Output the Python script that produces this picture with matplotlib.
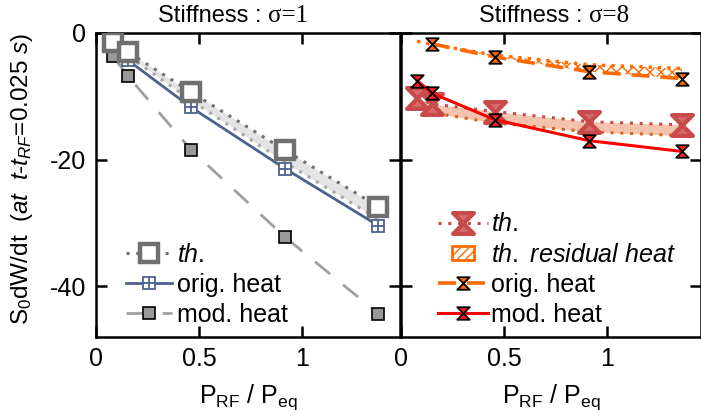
import matplotlib
matplotlib.use("Agg")
import matplotlib.pyplot as plt
from matplotlib.path import Path
from matplotlib.patches import Patch, Rectangle
from matplotlib.legend_handler import HandlerPatch
from matplotlib.offsetbox import TextArea, HPacker, AnchoredOffsetbox

plt.rcParams['font.family'] = ['Liberation Sans', 'DejaVu Sans']
plt.rcParams['mathtext.fontset'] = 'custom'
plt.rcParams['mathtext.rm'] = 'Liberation Sans'
plt.rcParams['mathtext.it'] = 'Liberation Sans:italic'
plt.rcParams['hatch.linewidth'] = 1.0
plt.rcParams['axes.unicode_minus'] = False

# ---------------- data: left panel (sigma = 1) ----------------
x_left = [0.083, 0.155, 0.46, 0.917, 1.37]
th_left = [-1.4, -3.0, -9.3, -18.5, -27.4]
th_low_left = [-1.9, -3.6, -10.6, -20.4, -29.4]
orig_left = [-2.0, -4.3, -11.7, -21.4, -30.4]
mod_left = [-3.7, -6.8, -18.4, -32.2, -44.3]

# ---------------- data: right panel (sigma = 8) ----------------
x_right = [0.078, 0.150, 0.456, 0.913, 1.364]
th_orig_right = [-1.3, -1.8, -3.5, -5.0, -5.6]
x_orig_right = [0.150, 0.456, 0.913, 1.364]
orig_right = [-1.7, -3.8, -6.1, -7.2]
th_right = [-10.2, -11.2, -12.4, -14.0, -14.5]
th_low_right = [-11.8, -12.6, -14.2, -15.6, -16.2]
mod_right = [-7.5, -9.5, -13.7, -17.0, -18.7]

yticks = [0, -20, -40]
xticks = [0, 0.5, 1]
xtick_labels = ['0', '0.5', '1']

FS = 18
FT = 17

hourglass = Path([(-1, 1), (1, 1), (-1, -1), (1, -1), (-1, 1)],
                 [Path.MOVETO, Path.LINETO, Path.LINETO, Path.LINETO, Path.CLOSEPOLY])

fig = plt.figure(figsize=(7.01, 4.20), dpi=100)
axL = fig.add_axes([96/701, 1-337/420, 304/701, 304/420])
axR = fig.add_axes([401/701, 1-337/420, 300/701, 304/420])

for ax in (axL, axR):
    ax.set_ylim(-48, 0)
    ax.set_yticks(yticks)
    ax.set_xticks(xticks)
    ax.set_xticklabels(xtick_labels)
    ax.tick_params(direction='in', length=8, width=1.8, top=True, right=True,
                   labelsize=FS, pad=7)
    for s in ax.spines.values():
        s.set_linewidth(1.8)
    ax.set_xlabel(r'P$_{\mathrm{RF}}$ / P$_{\mathrm{eq}}$', fontsize=FS, labelpad=8)

axL.set_xlim(0, 1.476)
axR.set_xlim(0, 1.456)
axR.set_yticklabels([])

# ---------------- left panel ----------------
grey_dark = '#707070'
axL.fill_between(x_left, th_left, th_low_left, color='#e4e4e4', lw=0, zorder=1)
axL.plot(x_left, th_low_left, ls=(0, (1, 2.2)), color='#a8a8a8', lw=2.2, zorder=2)
mod_l, = axL.plot(x_left, mod_left, ls=(0, (7, 6)), color='#a0a0a0', lw=2,
                  marker='s', ms=8, mfc='#999999', mec='black', mew=1.2, zorder=3)
orig_l, = axL.plot(x_left, orig_left, '-', color='#4d6191', lw=2,
                   marker='s', ms=8.5, mfc='white', mec='#4d6191', mew=1.3, zorder=4)
orig_lp, = axL.plot(x_left, orig_left, ls='none', marker='+', ms=8.5,
                    mec='#4d6191', mew=1.3, zorder=5)
th_l, = axL.plot(x_left, th_left, ls=(0, (1, 2.2)), color=grey_dark, lw=2.2,
                 marker='s', ms=13, mfc='white', mec='#707070', mew=3.2, zorder=6)

legL = axL.legend([th_l, (orig_l, orig_lp), mod_l],
                  ['$th.$', 'orig. heat', 'mod. heat'],
                  loc='lower left', bbox_to_anchor=(0.065, 0.0), frameon=False,
                  fontsize=FS, handlelength=1.85, handletextpad=0.2,
                  labelspacing=0.25, numpoints=1, borderaxespad=0)

# ---------------- right panel ----------------
orange = '#ff6a00'
axR.fill_between(x_orig_right, th_orig_right[1:], orig_right, facecolor='none',
                 edgecolor=orange, hatch='xxx', lw=0, zorder=1)
axR.plot(x_right, th_orig_right, ls=(0, (1, 1.8)), color=orange, lw=2.4, zorder=2)
orig_r, = axR.plot(x_orig_right, orig_right, ls=(0, (5, 3)), color=orange, lw=2.6,
                   marker=hourglass, ms=9, mfc=orange, mec='black', mew=1.3, zorder=5)

axR.fill_between(x_right, th_right, th_low_right, color='#f3c3ad', lw=0, zorder=1)
axR.plot(x_right, th_low_right, ls=(0, (1, 2.2)), color='#d9661a', lw=2.2, zorder=2)
mod_r, = axR.plot(x_right, mod_right, '-', color='#ff0000', lw=2.2,
                  marker=hourglass, ms=9, mfc='#ff2020', mec='black', mew=1.3, zorder=6)
th_r, = axR.plot(x_right, th_right, ls=(0, (1, 2.2)), color='#c84a4a', lw=2.2,
                 marker=hourglass, ms=15, mfc='#d86a6a', mec='#c84a4a', mew=3,
                 zorder=4)


def small_box(legend, orig_handle, xdescent, ydescent, width, height, fontsize):
    w = 0.45 * width
    h = 0.8 * height
    return Rectangle((-xdescent + (width - w) / 2, -ydescent + (height - h) / 2), w, h)


resid = Patch(facecolor='white', edgecolor=orange, hatch='////', lw=2)
legR = axR.legend([th_r, resid, orig_r, mod_r],
                  ['$th.$', '$th.$ $residual$ $heat$', 'orig. heat', 'mod. heat'],
                  loc='lower left', bbox_to_anchor=(0.09, 0.0), frameon=False,
                  fontsize=FS, handlelength=2.0, handletextpad=0.12,
                  labelspacing=0.25, numpoints=1, borderaxespad=0,
                  handleheight=0.7,
                  handler_map={Patch: HandlerPatch(patch_func=small_box)})

# ---------------- titles ----------------
def title(ax, sig, xc):
    t1 = TextArea("Stiffness : ", textprops=dict(family='Liberation Sans', size=FT))
    t2 = TextArea(sig, textprops=dict(family='Liberation Serif', size=FT + 1))
    box = HPacker(children=[t1, t2], align='baseline', pad=0, sep=0)
    ab = AnchoredOffsetbox(loc='lower center', child=box, bbox_to_anchor=(xc, 1.02),
                           bbox_transform=ax.transAxes, frameon=False, pad=0,
                           borderpad=0)
    ax.add_artist(ab)

title(axL, "σ=1", 0.45)
title(axR, "σ=8", 0.51)

axL.set_ylabel(r'S$_0$dW/dt  $(at\ \ t$-$t_{RF}$=$0.025\ s)$', fontsize=17.5)
axL.yaxis.set_label_coords(-0.2, 0.52)

fig.savefig('out.png', dpi=100)
